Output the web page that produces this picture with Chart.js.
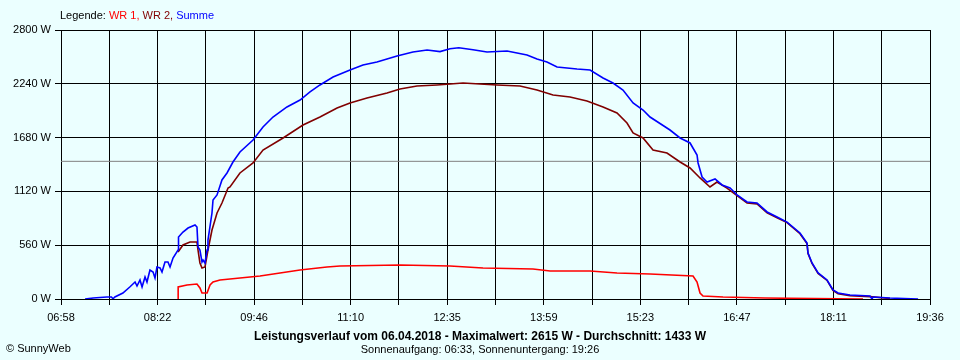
<!DOCTYPE html>
<html>
<head>
<meta charset="utf-8">
<script src="https://cdn.jsdelivr.net/npm/chart.js@4/dist/chart.umd.min.js"></script>
<style>
  html, body { margin: 0; padding: 0; background: #EBFFFF; }
  canvas { display: block; }
</style>
</head>
<body>
<canvas id="c" width="960" height="360"></canvas>
<script>
// ---- Data (time in minutes since midnight, power in W) ----
const xTickLabels = ['06:58','08:22','09:46','11:10','12:35','13:59','15:23','16:47','18:11','19:36'];
const yTickValues = [0, 560, 1120, 1680, 2240, 2800];
const averageWatt = 1433;

const sumMinutes = [439,446,458,462,463.4,465,472,478,482.6,484.3,486.9,488.7,491.3,493,495.6,498.3,500,501.7,504.4,506.1,508.7,511.3,513.1,515.7,520.1,520.5,524.4,528.8,534.9,536.6,537.5,539.2,541,541.9,543.6,545.4,546.2,549.7,550.6,554.1,558.4,562.8,568,574.1,585.5,594.2,602.9,615.1,626.5,635.2,643.9,655.3,670.1,681.4,693.6,711.1,725,737.3,748.6,757.3,765,777.4,789.6,807.1,824.5,833.2,841.9,850.7,868.1,879.5,890.8,899.5,908.2,917,925.7,931.8,949.2,958,966.7,972.8,973.7,977.2,981.5,988.5,994.6,1001.6,1007.7,1016.4,1025.1,1033.9,1042.6,1051.3,1062.6,1068.7,1069.6,1073.1,1078.4,1086.2,1091.4,1095.8,1106.2,1123.7,1125.4,1126.3,1141.1,1165.6];
const sumWatts   = [0,10,21,21,3,21,62,125,177,135,198,125,229,177,302,281,219,333,323,281,385,385,333,427,510,645,697,739,770,749,541,510,385,406,375,510,614,895,1030,1083,1239,1312,1426,1530,1655,1790,1894,1999,2071,2155,2228,2311,2384,2436,2467,2529,2571,2592,2575,2605,2615,2595,2571,2581,2540,2498,2467,2415,2394,2384,2300,2248,2175,2040,1967,1894,1759,1676,1624,1499,1416,1270,1218,1249,1187,1155,1083,1010,999,906,854,801,687,583,479,375,271,198,94,62,42,31,0,21,10,0];

const wr2Minutes = [520.1,524.4,530.5,536.6,537.5,539.2,541,543.6,546.2,549.7,554.1,558.4,563.7,565.4,574.1,585.5,594.2,611.7,629.1,643.9,658.8,670.1,684.9,702.4,713.7,728.5,746,768.7,798.3,818.4,833.2,847.2,862,876.8,890.8,903,911.7,917,925.7,934.4,946.6,958,966.7,975.4,984.1,990.2,998.9,1007.7,1016.4,1025.1,1033.9,1042.6,1051.3,1062.6,1068.7,1069.6,1073.1,1078.4,1086.2,1091.4,1095.8,1106.2,1123.7,1141.1];
const wr2Watts   = [489,562,593,593,510,375,323,333,510,718,895,999,1155,1166,1312,1416,1551,1676,1811,1894,1988,2040,2092,2144,2186,2217,2228,2248,2228,2217,2175,2123,2103,2061,1999,1936,1832,1728,1676,1551,1520,1426,1364,1260,1166,1218,1155,1075,1000,990,898,846,795,680,577,473,370,266,193,90,55,35,25,5];

const wr1Minutes = [520.1,520.2,527.9,536.6,539.2,541,545.4,548,550.6,556.7,591.6,626.5,650,661.4,713.7,757.3,786.1,829.7,844.6,879.5,903,931.8,969.3,972.8,975.4,978,995.5,1032.1,1117.6];
const wr1Watts   = [0,125,146,156,115,62,62,146,177,198,239,302,333,343,354,343,323,312,291,291,271,260,239,177,62,31,21,10,0];

const zip = (xs, ys) => xs.map((x, i) => ({ x, y: ys[i] }));
const X_MIN = 418, X_MAX = 1176, X_DIVS = 18;

const overlay = {
  id: 'overlay',
  afterDraw(chart) {
    const ctx = chart.ctx;
    ctx.save();
    ctx.textBaseline = 'middle';
    ctx.font = '11px "Liberation Sans", Arial, sans-serif';
    const parts = [['Legende: ', '#000000'], ['WR 1, ', '#FF0000'], ['WR 2, ', '#800000'], ['Summe', '#0000FF']];
    let x = 60;
    for (const [t, c] of parts) {
      ctx.fillStyle = c;
      ctx.fillText(t, x, 16);
      x += ctx.measureText(t).width;
    }
    ctx.fillStyle = '#000000';
    ctx.textAlign = 'center';
    ctx.font = 'bold 12px "Liberation Sans", Arial, sans-serif';
    ctx.fillText('Leistungsverlauf vom 06.04.2018 - Maximalwert: 2615 W - Durchschnitt: ' + averageWatt + ' W', 480, 337);
    ctx.font = '11px "Liberation Sans", Arial, sans-serif';
    ctx.fillText('Sonnenaufgang: 06:33, Sonnenuntergang: 19:26', 480, 350);
    ctx.textAlign = 'left';
    ctx.fillText('\u00A9 SunnyWeb', 6, 349);
    ctx.restore();
  }
};

new Chart(document.getElementById('c'), {
  type: 'line',
  data: {
    datasets: [
      { label: 'Summe', data: zip(sumMinutes, sumWatts), borderColor: '#0000FF', borderWidth: 1.6 },
      { label: 'WR 2', data: zip(wr2Minutes, wr2Watts), borderColor: '#800000', borderWidth: 1.6 },
      { label: 'WR 1', data: zip(wr1Minutes, wr1Watts), borderColor: '#FF0000', borderWidth: 1.6 },
      { label: 'Durchschnitt', data: [{ x: X_MIN, y: averageWatt }, { x: X_MAX, y: averageWatt }], borderColor: '#808080', borderWidth: 1 }
    ]
  },
  options: {
    responsive: false,
    animation: false,
    parsing: false,
    elements: { point: { radius: 0 }, line: { tension: 0, fill: false } },
    layout: { padding: { left: 0, right: 30, top: 30, bottom: 0 } },
    plugins: { legend: { display: false }, tooltip: { enabled: false }, title: { display: false } },
    scales: {
      x: {
        type: 'linear', min: X_MIN, max: X_MAX,
        afterBuildTicks(scale) {
          const t = [];
          for (let k = 0; k <= X_DIVS; k++) t.push({ value: X_MIN + k * (X_MAX - X_MIN) / X_DIVS });
          scale.ticks = t;
        },
        afterFit(scale) { scale.height = 61; },
        ticks: {
          autoSkip: false, maxRotation: 0, minRotation: 0, color: '#000000', padding: 6,
          font: { family: '"Liberation Sans", Arial, sans-serif', size: 11 },
          callback: (v, i) => (i % 2 === 0 ? xTickLabels[i / 2] : '')
        },
        grid: { color: '#000000', lineWidth: 1, tickLength: 6, drawTicks: true },
        border: { display: true, color: '#000000', width: 1 }
      },
      y: {
        min: 0, max: 2800,
        afterBuildTicks(scale) { scale.ticks = yTickValues.map(v => ({ value: v })); },
        afterFit(scale) { scale.width = 61; },
        ticks: {
          color: '#000000', padding: 4,
          font: { family: '"Liberation Sans", Arial, sans-serif', size: 11 },
          callback: v => v + ' W'
        },
        grid: { color: '#000000', lineWidth: 1, tickLength: 6, drawTicks: true },
        border: { display: true, color: '#000000', width: 1 }
      }
    }
  },
  plugins: [overlay]
});
</script>
</body>
</html>
